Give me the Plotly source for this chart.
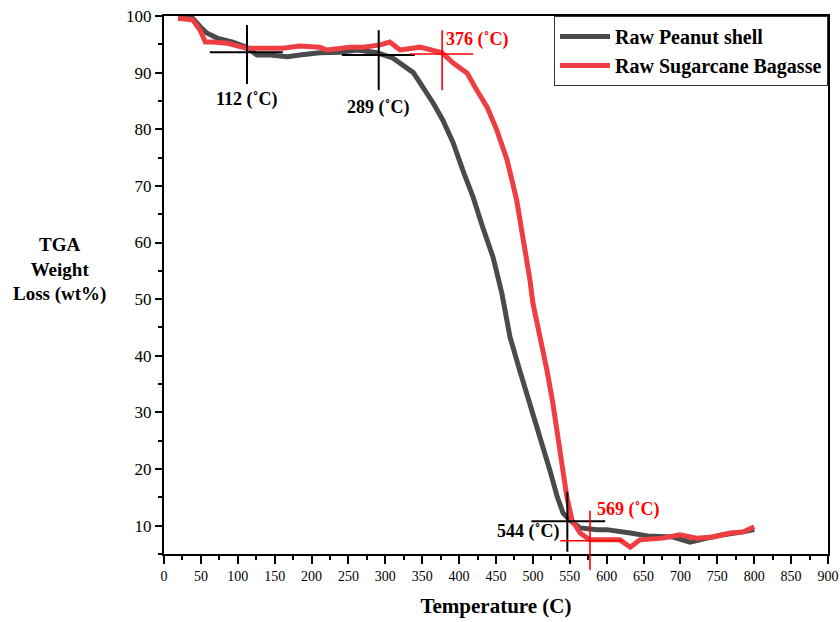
import plotly.graph_objects as go

# ---- data ----
peanut_T = [19, 39, 49, 58, 72, 93, 112, 126, 144, 167, 184, 211, 238, 262, 289, 310,
            338, 351, 365, 378, 392, 405, 419, 432, 446, 458, 469, 482, 496, 510, 523,
            533, 541, 550, 564, 587, 600, 632, 655, 690, 713, 736, 758, 785, 800]
peanut_W = [99.6, 99.6, 98.1, 97.0, 96.1, 95.4, 94.5, 93.1, 93.1, 92.8, 93.1, 93.5, 93.6,
            94.0, 93.5, 92.6, 90.0, 87.5, 84.6, 81.6, 77.6, 72.8, 68.0, 62.7, 57.4, 51.0,
            43.3, 37.5, 31.7, 25.7, 19.8, 15.1, 12.2, 11.0, 9.6, 9.3, 9.3, 8.7, 8.2, 8.0,
            7.1, 7.8, 8.4, 8.9, 9.3]

bagasse_T = [19, 39, 49, 56, 66, 85, 112, 130, 161, 184, 211, 221, 252, 270, 293, 306,
             320, 347, 377, 392, 411, 424, 438, 451, 465, 478, 487, 496, 500, 510, 519,
             527, 534, 541, 546, 553, 564, 577, 618, 632, 645, 676, 699, 722, 744, 767,
             785, 800]
bagasse_W = [99.6, 99.3, 97.5, 95.4, 95.4, 95.2, 94.3, 94.3, 94.3, 94.7, 94.5, 94.0, 94.5,
             94.5, 94.9, 95.4, 94.0, 94.5, 93.5, 91.7, 89.9, 86.9, 83.9, 79.9, 74.6, 67.5,
             61.0, 53.4, 49.3, 43.3, 37.5, 31.7, 25.7, 19.8, 15.1, 11.0, 8.7, 7.5, 7.5,
             6.2, 7.5, 7.8, 8.4, 7.8, 8.0, 8.7, 8.9, 9.8]

series_names = ["Raw Peanut shell", "Raw Sugarcane Bagasse"]

# crosshair markers: center T, center W, horizontal span, vertical span, label, label pos
cross_T = [112.5, 291, 377, 546.7, 577.4]
cross_W = [93.6, 93.1, 93.3, 10.8, 7.35]
cross_h = [(62, 161), (241, 340), (333, 419), (498, 598), (537, 622)]
cross_v = [(88.0, 98.4), (86.9, 97.5), (86.9, 97.5), (5.4, 16.0), (2.2, 12.65)]
cross_label = ["112 (˚C)", "289 (˚C)", "376 (˚C)", "544 (˚C)", "569 (˚C)"]
label_T = [112.5, 290, 424, 493, 629]
label_W = [85.2, 83.8, 95.8, 8.9, 12.9]
cross_color = ["black", "black", "#ff0000", "black", "#ff0000"]

x_range = [0, 900]
y_range = [5, 100]

FONT = "Liberation Serif"

fig = go.Figure()
fig.add_trace(go.Scatter(x=peanut_T, y=peanut_W, mode="lines", name=series_names[0],
                         line=dict(color="#4a4a4a", width=5)))
fig.add_trace(go.Scatter(x=bagasse_T, y=bagasse_W, mode="lines", name=series_names[1],
                         line=dict(color="#ef3e42", width=5)))

shapes = []
annotations = []
for i in range(len(cross_T)):
    c = cross_color[i]
    lw = 2 if c == "black" else 1.6
    shapes.append(dict(type="line", xref="x", yref="y", x0=cross_h[i][0], x1=cross_h[i][1],
                       y0=cross_W[i], y1=cross_W[i], line=dict(color=c, width=lw)))
    v0, v1 = cross_v[i]
    if v0 < y_range[0]:
        p0 = (v0 - y_range[0]) / (y_range[1] - y_range[0])
        p1 = (v1 - y_range[0]) / (y_range[1] - y_range[0])
        shapes.append(dict(type="line", xref="x", yref="paper", x0=cross_T[i], x1=cross_T[i],
                           y0=p0, y1=p1, line=dict(color=c, width=lw)))
    else:
        shapes.append(dict(type="line", xref="x", yref="y", x0=cross_T[i], x1=cross_T[i],
                           y0=v0, y1=v1, line=dict(color=c, width=lw)))
    annotations.append(dict(x=label_T[i], y=label_W[i], xref="x", yref="y", text=cross_label[i],
                            showarrow=False, xanchor="center", yanchor="middle",
                            font=dict(family=FONT, size=18, color=c, weight="bold")))

annotations.append(dict(x=-0.157, y=0.528, xref="paper", yref="paper",
                        xanchor="center", yanchor="middle",
                        text="TGA<br>Weight<br>Loss (wt%)", showarrow=False, align="center",
                        font=dict(family=FONT, size=19, color="black", weight="bold")))

fig.update_layout(
    width=840, height=622,
    margin=dict(l=164, r=12, t=16, b=68, autoexpand=False),
    paper_bgcolor="white", plot_bgcolor="white",
    shapes=shapes, annotations=annotations,
    font=dict(family=FONT, color="black"),
    legend=dict(x=1, y=1, xanchor="right", yanchor="top", bgcolor="white",
                bordercolor="#333333", borderwidth=1, itemwidth=50,
                font=dict(family=FONT, size=20, color="black", weight="bold"),
                tracegroupgap=0),
    showlegend=True,
)
fig.update_xaxes(range=x_range, tickmode="linear", tick0=0, dtick=50, automargin=False,
                 ticks="outside", ticklen=8, tickwidth=1.8, tickcolor="black",
                 minor=dict(ticks="outside", ticklen=4, tickwidth=1.5, dtick=25, tickcolor="black"),
                 showline=True, linewidth=2, linecolor="black", mirror=True,
                 showgrid=False, zeroline=False,
                 tickfont=dict(family=FONT, size=14, color="black"),
                 title=dict(text="Temperature (C)", standoff=16,
                            font=dict(family=FONT, size=21, color="black", weight="bold")))
fig.update_yaxes(range=y_range, tickmode="linear", tick0=0, dtick=10, automargin=False,
                 ticks="outside", ticklen=7, tickwidth=1.8, tickcolor="black",
                 minor=dict(ticks="outside", ticklen=4, tickwidth=1.5, dtick=5, tickcolor="black"),
                 showline=True, linewidth=2, linecolor="black", mirror=True,
                 showgrid=False, zeroline=False,
                 tickfont=dict(family=FONT, size=17, color="black"))

fig.write_html("out.html")
